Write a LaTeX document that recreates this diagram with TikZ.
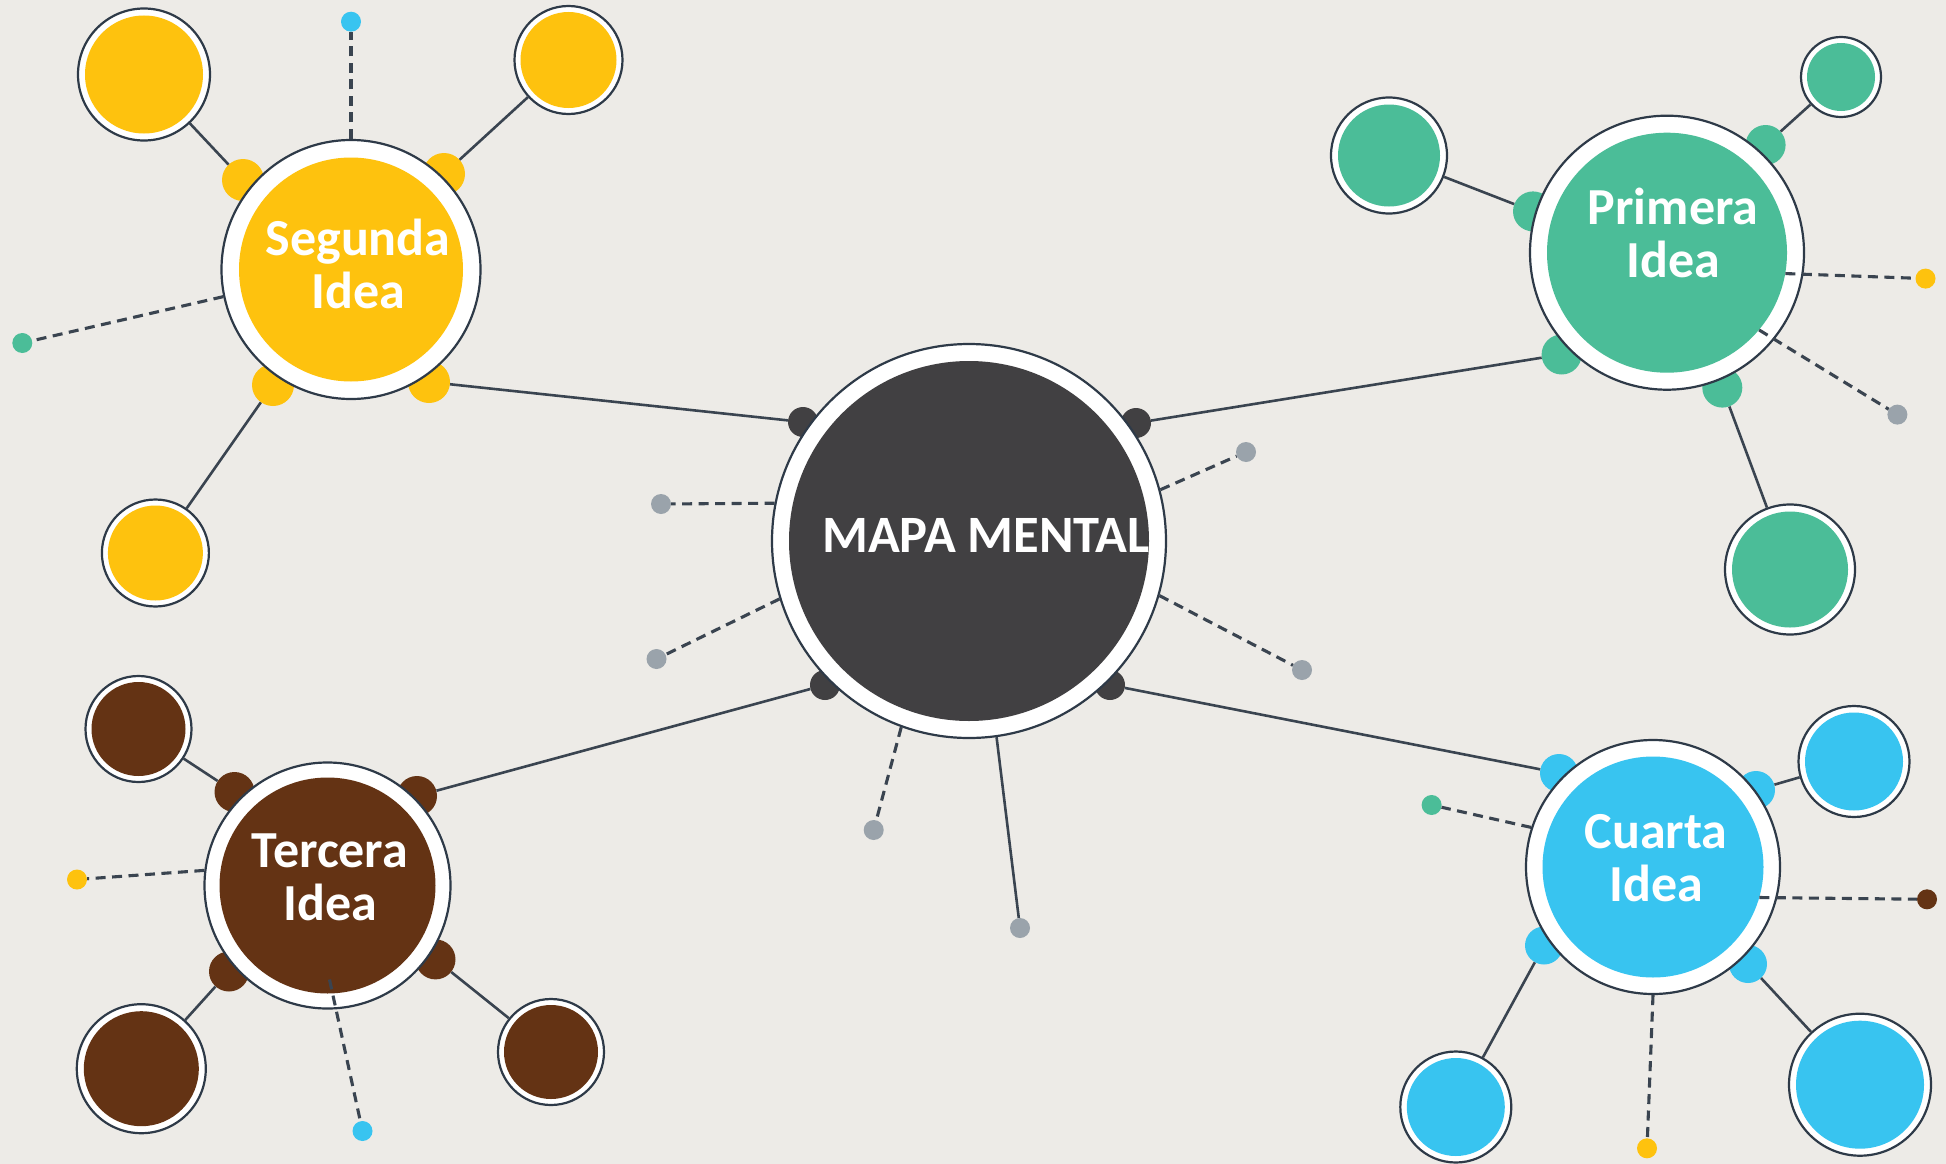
\documentclass[tikz,border=0pt]{standalone}
\usepackage{fontspec}
\setmainfont{Carlito}
\definecolor{bg}{HTML}{EDEBE7}
\definecolor{outl}{HTML}{2E3A48}
\definecolor{lnk}{HTML}{3A4450}
\definecolor{cdark}{HTML}{414042}
\definecolor{cyel}{HTML}{FEC20E}
\definecolor{cgrn}{HTML}{4BBD98}
\definecolor{cbrn}{HTML}{643314}
\definecolor{cblu}{HTML}{38C4F0}
\definecolor{cgry}{HTML}{9AA3AB}
\tikzset{
  ring/.style={circle, draw=outl, line width=2.2pt, fill=white, inner sep=0pt, minimum size=#1},
  core/.style={circle, inner sep=0pt, draw=none, minimum size=#1},
  nub/.style={circle, inner sep=0pt, draw=none, minimum size=#1},
  dot/.style={circle, inner sep=0pt, draw=none, minimum size=20pt, fill=#1},
  link/.style={draw=lnk, line width=2.6pt},
  dlink/.style={draw=lnk, line width=3.1pt, dash pattern=on 10pt off 6.5pt},
  lbl/.style={text=white, font=\fontsize{52}{53}\selectfont\bfseries, align=center, inner sep=0pt}
}
\begin{document}
\begin{tikzpicture}[x=1pt,y=-1pt]
\useasboundingbox (0,0) rectangle (1946,1164);
\fill[bg] (0,0) rectangle (1946,1164);

% ---------- nubs (behind rings)
\node[nub=30, fill=cdark] (c-ul) at (803,422) {};
\node[nub=30, fill=cdark] (c-ur) at (1136,423) {};
\node[nub=30, fill=cdark] (c-ll) at (825,685) {};
\node[nub=30, fill=cdark] (c-lr) at (1110,685) {};

\node[nub=42, fill=cyel] (seg-ul) at (243,180) {};
\node[nub=42, fill=cyel] (seg-ur) at (444,174) {};
\node[nub=42, fill=cyel] (seg-ll) at (273,385) {};
\node[nub=42, fill=cyel] (seg-lr) at (429,382) {};

\node[nub=40, fill=cgrn] (pri-l) at (1533,211.4) {};
\node[nub=40, fill=cgrn] (pri-ur) at (1765.6,145) {};
\node[nub=40, fill=cgrn] (pri-ll) at (1561.6,354.5) {};
\node[nub=40, fill=cgrn] (pri-lr) at (1722.3,387.6) {};

\node[nub=40, fill=cbrn] (ter-ul) at (234.5,792) {};
\node[nub=40, fill=cbrn] (ter-ur) at (417,796) {};
\node[nub=40, fill=cbrn] (ter-ll) at (229,971.5) {};
\node[nub=40, fill=cbrn] (ter-lr) at (435.5,959.4) {};

\node[nub=38, fill=cblu] (cua-ul) at (1559,773) {};
\node[nub=38, fill=cblu] (cua-ur) at (1756,790) {};
\node[nub=38, fill=cblu] (cua-ll) at (1544,945.5) {};
\node[nub=38, fill=cblu] (cua-lr) at (1748,964) {};

% ---------- main circles
\node[ring=394] (c) at (969,541) {};
\node[core=360, fill=cdark] (c-i) at (969,541) {};
\node[lbl, font=\fontsize{52.5}{52}\selectfont\bfseries] (c-t) at (986,535) {MAPA MENTAL};

\node[ring=259] (seg) at (351,269.5) {};
\node[core=224, fill=cyel] (seg-i) at (351,269.5) {};
\node[lbl] (seg-t) at (358,264) {Segunda\\Idea};

\node[ring=274] (pri) at (1667,252.7) {};
\node[core=240, fill=cgrn] (pri-i) at (1667,252.7) {};
\node[lbl] (pri-t) at (1673,232.5) {Primera\\Idea};

\node[ring=246] (ter) at (327.5,885.5) {};
\node[core=216, fill=cbrn] (ter-i) at (327.5,885.5) {};
\node[lbl] (ter-t) at (330,877.5) {Tercera\\Idea};

\node[ring=254] (cua) at (1653,867) {};
\node[core=221, fill=cblu] (cua-i) at (1653,867) {};
\node[lbl] (cua-t) at (1656,858.5) {Cuarta\\Idea};

% ---------- satellites
\node[ring=132] (seg-s1) at (144,74.5) {};   \node[core=118, fill=cyel] at (seg-s1) {};
\node[ring=108] (seg-s2) at (568.5,60) {};   \node[core=96, fill=cyel] at (seg-s2) {};
\node[ring=107] (seg-s3) at (155.4,553) {};  \node[core=95, fill=cyel] at (seg-s3) {};

\node[ring=116] (pri-s1) at (1389,155.5) {}; \node[core=102, fill=cgrn] at (pri-s1) {};
\node[ring=80]  (pri-s2) at (1841,77) {};    \node[core=68, fill=cgrn] at (pri-s2) {};
\node[ring=130] (pri-s3) at (1790,569.5) {}; \node[core=116, fill=cgrn] at (pri-s3) {};

\node[ring=106] (ter-s1) at (138.5,729) {};  \node[core=94, fill=cbrn] at (ter-s1) {};
\node[ring=129] (ter-s2) at (141.3,1068.7) {}; \node[core=115, fill=cbrn] at (ter-s2) {};
\node[ring=106] (ter-s3) at (551,1052) {};   \node[core=94, fill=cbrn] at (ter-s3) {};

\node[ring=111] (cua-s1) at (1854,761.5) {}; \node[core=98, fill=cblu] at (cua-s1) {};
\node[ring=111] (cua-s2) at (1455.8,1107) {}; \node[core=98, fill=cblu] at (cua-s2) {};
\node[ring=142] (cua-s3) at (1860,1084.7) {}; \node[core=128, fill=cblu] at (cua-s3) {};

% ---------- end dots
\node[dot=cgry] (g1) at (661,504) {};
\node[dot=cgry] (g2) at (656.5,659) {};
\node[dot=cgry] (g3) at (873.7,830) {};
\node[dot=cgry] (g4) at (1020,928) {};
\node[dot=cgry] (g5) at (1246,452) {};
\node[dot=cgry] (g6) at (1302,670) {};

\node[dot=cblu] (seg-d1) at (351,21.7) {};
\node[dot=cgrn] (seg-d2) at (22.3,343) {};
\node[dot=cyel] (pri-d1) at (1925.5,278.6) {};
\node[dot=cgry] (pri-d2) at (1897.4,414.6) {};
\node[dot=cyel] (ter-d1) at (77,879.5) {};
\node[dot=cblu] (ter-d2) at (362.5,1131) {};
\node[dot=cgrn] (cua-d1) at (1431.6,805) {};
\node[dot=cbrn] (cua-d2) at (1927,899.3) {};
\node[dot=cyel] (cua-d3) at (1647,1148.3) {};

\coordinate (ter-dst) at (329.5,979.5);

% ---------- solid connectors
\draw[link] (c-ul) -- (seg-lr);
\draw[link] (c-ur) -- (pri-ll);
\draw[link] (c-ll) -- (ter-ur);
\draw[link] (c-lr) -- (cua-ul);
\draw[link] (c.-82.4) -- (g4);

\draw[link] (seg-ul) -- (seg-s1);
\draw[link] (seg-ur) -- (seg-s2);
\draw[link] (seg-ll) -- (seg-s3);
\draw[link] (pri-l) -- (pri-s1);
\draw[link] (pri-ur) -- (pri-s2);
\draw[link] (pri-lr) -- (pri-s3);
\draw[link] (ter-ul) -- (ter-s1);
\draw[link] (ter-ll) -- (ter-s2);
\draw[link] (ter-lr) -- (ter-s3);
\draw[link] (cua-ur) -- (cua-s1);
\draw[link] (cua-ll) -- (cua-s2);
\draw[link] (cua-lr) -- (cua-s3);

% ---------- dashed connectors
\draw[dlink] (c.169.2) -- (g1);
\draw[dlink] (c.197.3) -- (g2);
\draw[dlink] (c.250.4) -- (g3);
\draw[dlink] (c.15) -- (g5);
\draw[dlink] (c.-16.3) -- (g6);

\draw[dlink] (seg.90) -- (seg-d1);
\draw[dlink] (seg.192.9) -- (seg-d2);
\draw[dlink] (pri-i.-10) -- (pri-d1);
\draw[dlink] (pri-i.-40.9) -- (pri-d2);
\draw[dlink] (ter.173) -- (ter-d1);
\draw[dlink] (ter-dst) -- (ter-d2);
\draw[dlink] (cua.162.4) -- (cua-d1);
\draw[dlink] (cua-i.-16.5) -- (cua-d2);
\draw[dlink] (cua.-90) -- (cua-d3);
\end{tikzpicture}
\end{document}
